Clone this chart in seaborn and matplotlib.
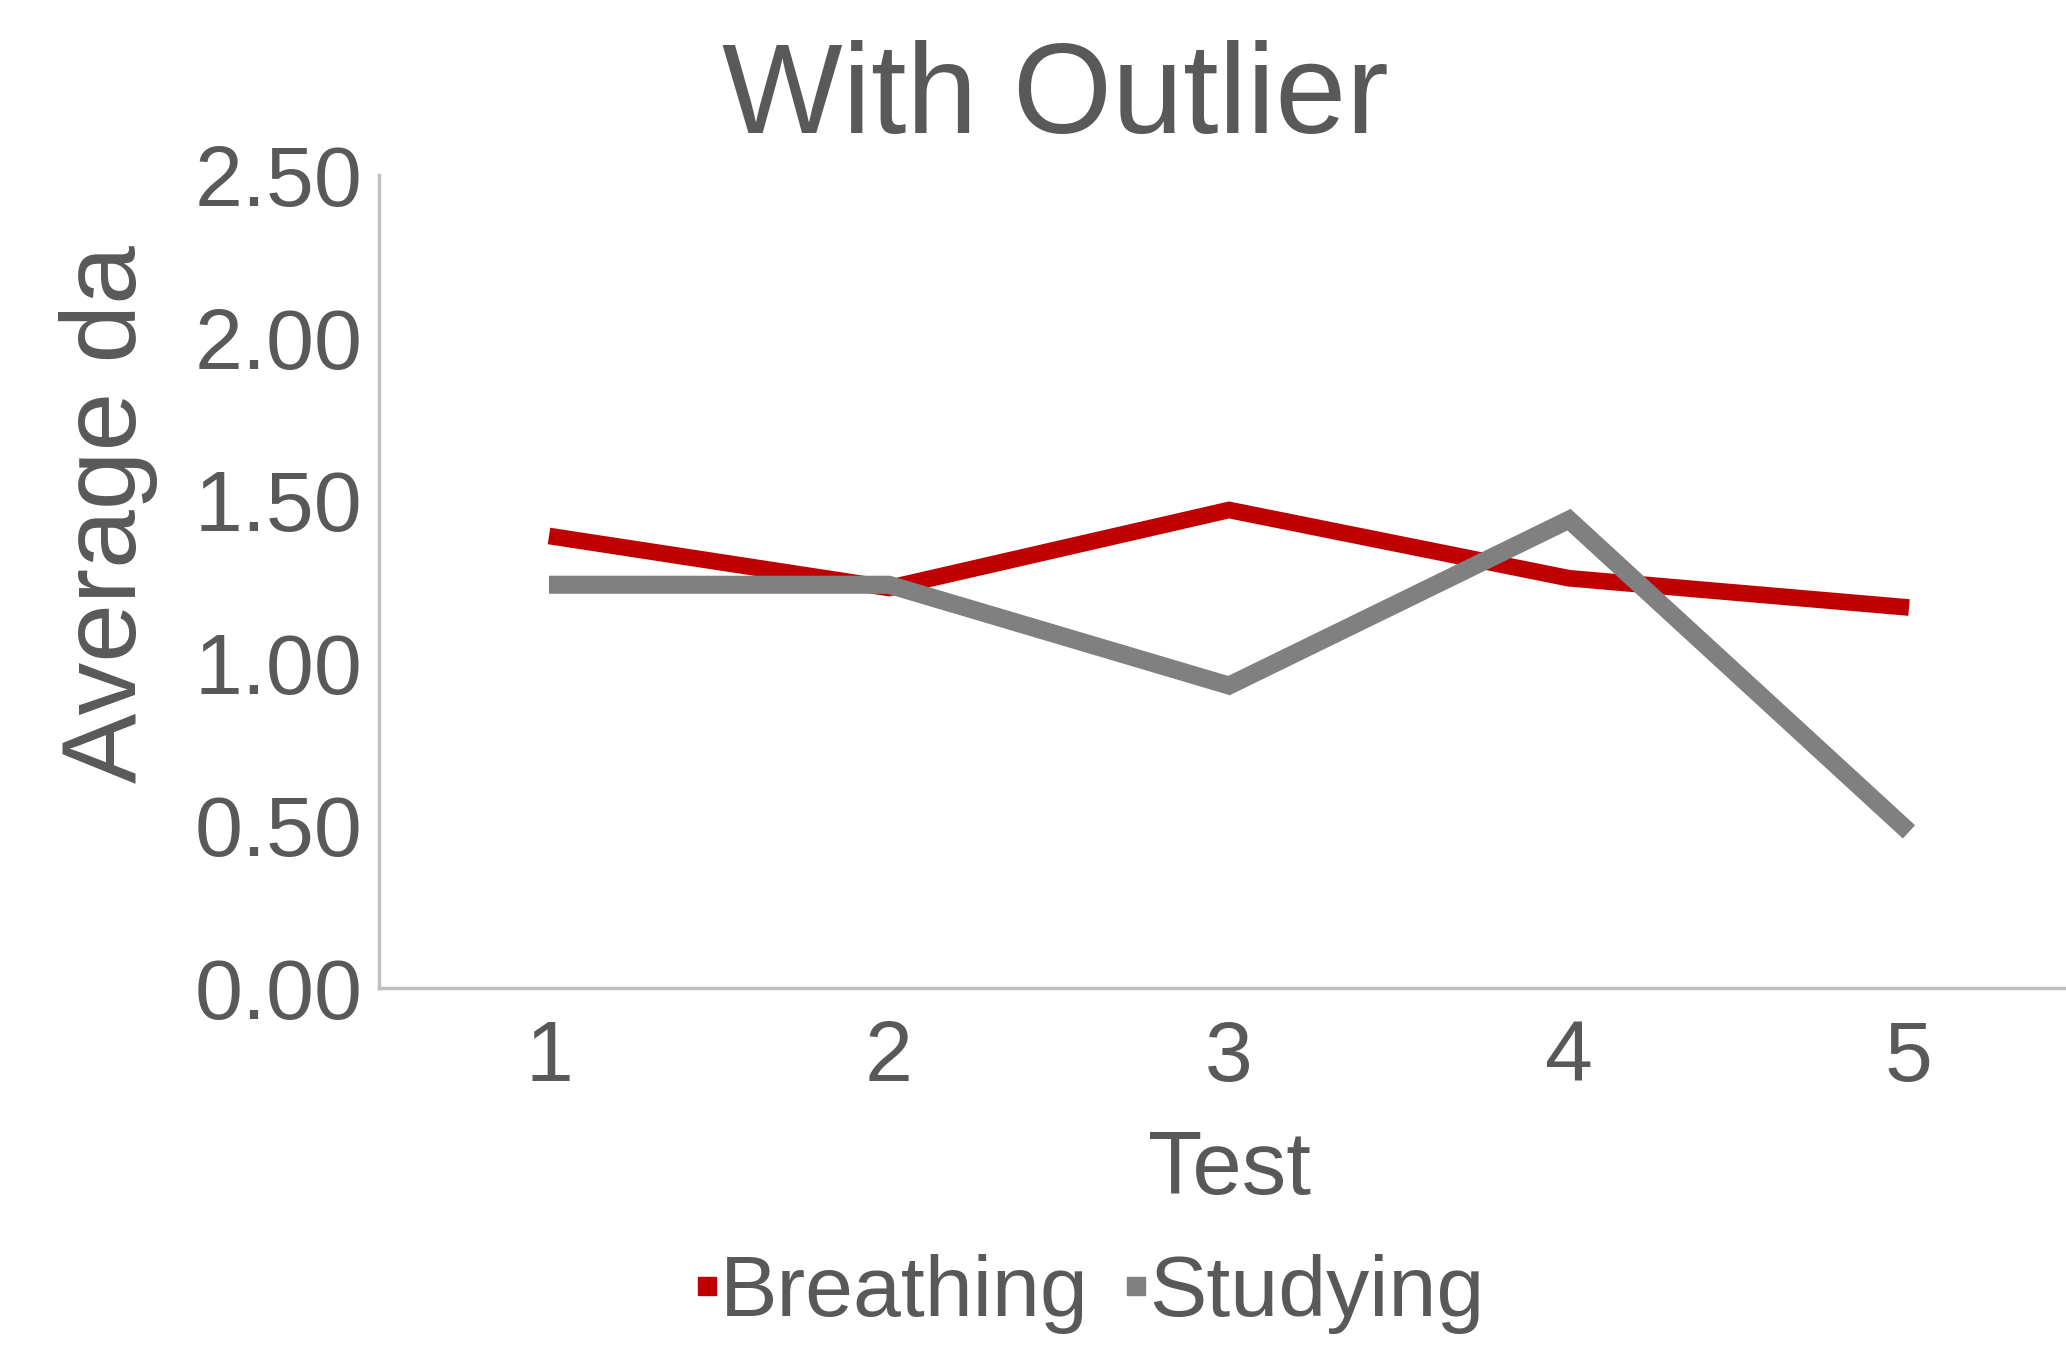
import pandas as pd
import seaborn as sns
import matplotlib
import matplotlib.pyplot as plt
from matplotlib.lines import Line2D

matplotlib.use("Agg")

# Werte
tests = [1, 2, 3, 4, 5]
breathing = [1.39, 1.23, 1.47, 1.26, 1.17]
studying = [1.24, 1.24, 0.93, 1.44, 0.48]
y_ticks = [0.0, 0.5, 1.0, 1.5, 2.0, 2.5]

df = pd.DataFrame({
    "Test": tests * 2,
    "Wert": breathing + studying,
    "Gruppe": ["Breathing"] * len(tests) + ["Studying"] * len(tests),
})

sns.set_theme(style="white")
plt.rcParams["font.family"] = ["Liberation Sans", "DejaVu Sans"]
text_col = "#595959"
farben = {"Breathing": "#c00000", "Studying": "#808080"}

fig = plt.figure(figsize=(20.66, 13.48), dpi=100)
ax = fig.add_axes([379 / 2066, 1 - 988 / 1348, 1700 / 2066, 813 / 1348])

sns.lineplot(data=df, x="Test", y="Wert", hue="Gruppe", palette=farben,
             linewidth=12, legend=False, ax=ax)
# Studying etwas dicker, Linienenden wie im Original gerade
ax.lines[1].set_linewidth(13)
for ln in ax.lines:
    ln.set_solid_capstyle("butt")
    ln.set_solid_joinstyle("miter")

ax.set_xlim(0.5, 5.5)
ax.set_ylim(0, 2.5)
ax.set_xticks(tests)
ax.set_yticks(y_ticks)
ax.set_yticklabels([f"{v:.2f}" for v in y_ticks])
ax.tick_params(axis="both", length=0, labelsize=62, colors=text_col)
ax.tick_params(axis="x", pad=22)
ax.tick_params(axis="y", pad=12)

for s in ["top", "right"]:
    ax.spines[s].set_visible(False)
for s in ["left", "bottom"]:
    ax.spines[s].set_color("#c0c0c0")
    ax.spines[s].set_linewidth(2.5)

ax.set_xlabel("Test", fontsize=64, color=text_col, labelpad=22)
ax.set_ylabel("")
fig.text(108 / 2066, 1 - 514 / 1348, "Average da", fontsize=76, color=text_col,
         rotation=90, ha="center", va="center")
fig.text(1055 / 2066, 1 - 100 / 1348, "With Outlier", fontsize=92,
         color=text_col, ha="center", va="center")

handles = [Line2D([], [], linestyle="none", marker="s", markersize=13,
                  color=farben[g]) for g in ["Breathing", "Studying"]]
fig.legend(handles, ["Breathing", "Studying"], loc="center",
           bbox_to_anchor=(1085 / 2066, 1 - 1294 / 1348), ncol=2, frameon=False,
           fontsize=62, labelcolor=text_col, handletextpad=-0.1,
           columnspacing=0.3, handlelength=0.5)

fig.savefig("out.png", dpi=100)
